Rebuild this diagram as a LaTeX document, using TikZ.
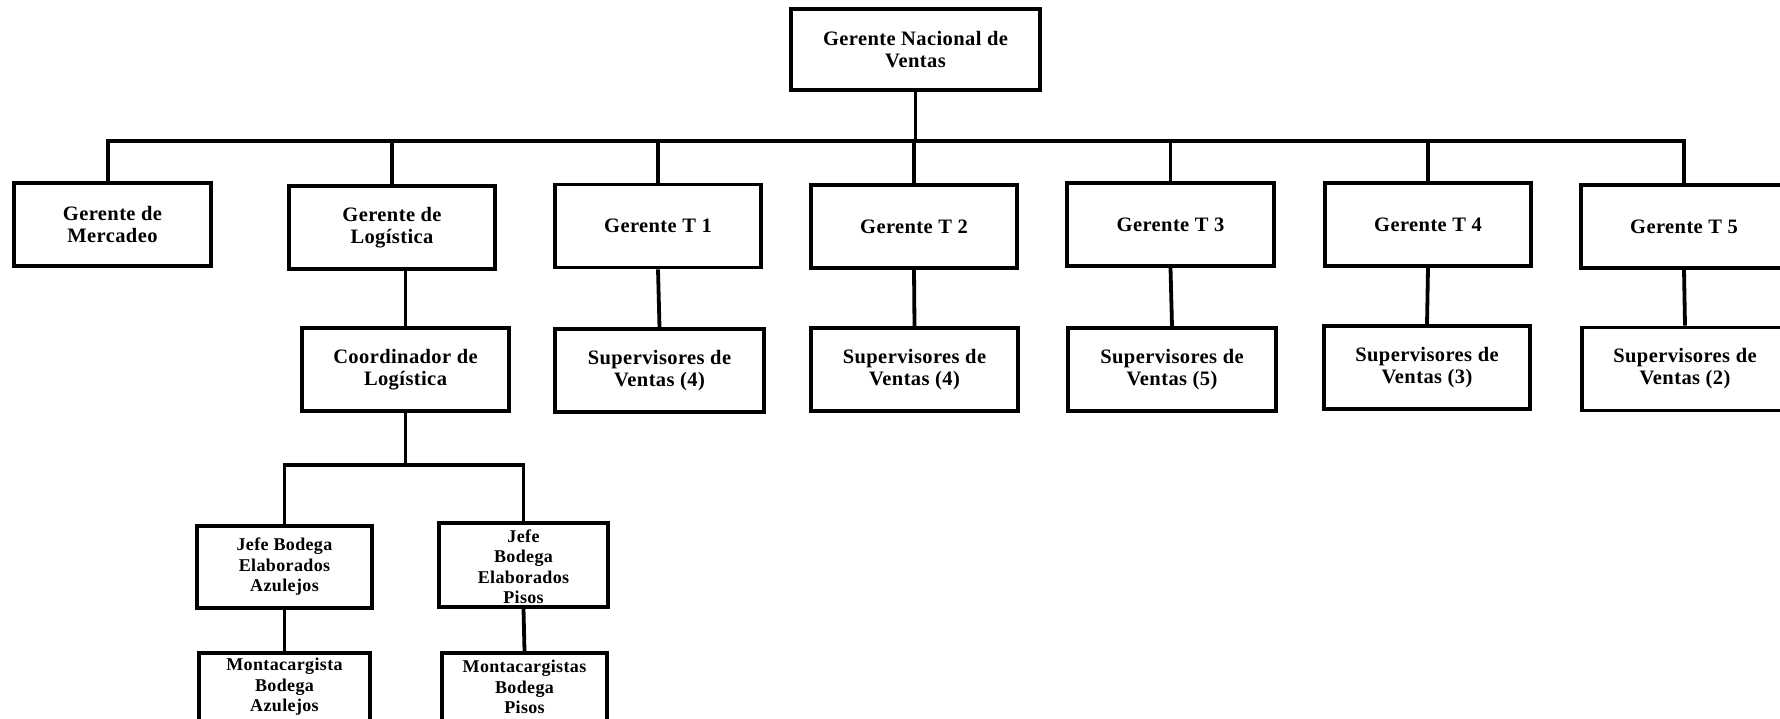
\documentclass[tikz,border=0pt]{standalone}
\usepackage{fontspec}
\setmainfont{Liberation Serif}[LetterSpace=2]
\begin{document}
\begin{tikzpicture}[x=1pt,y=-1pt,
  box/.style={draw=black, line width=3.6pt, fill=white, inner sep=0pt, align=center,
    font=\bfseries\fontsize{20.5}{22}\selectfont},
  bigbox/.style={box, minimum width=206pt, minimum height=83pt},
  smallbox/.style={box, font=\bfseries\fontsize{18}{20.5}\selectfont},
  txt/.style={inner sep=0pt, align=center, font=\bfseries\fontsize{18}{20.5}\selectfont},
  conn/.style={line width=3.8pt, line join=miter}]
\useasboundingbox (0,0) rectangle (1780,718);
% top level
\node[box, minimum width=249pt, minimum height=81pt] (top) at (915.5,49.5) {Gerente Nacional de\\Ventas};
% second level
\node[bigbox, minimum width=197pt] (merc) at (112.5,224.5) {Gerente de\\Mercadeo};
\node[bigbox] (log) at (392,227.5) {Gerente de\\Logística};
\node[bigbox] (t1) at (658,226) {Gerente T 1};
\node[bigbox] (t2) at (914,226.5) {Gerente T 2};
\node[bigbox, minimum width=207pt] (t3) at (1170.5,224.5) {Gerente T 3};
\node[bigbox] (t4) at (1428,224.5) {Gerente T 4};
\node[bigbox] (t5) at (1684,226.5) {Gerente T 5};
% third level
\node[bigbox, minimum width=207pt] (coord) at (405.5,369.5) {Coordinador de\\Logística};
\node[bigbox, minimum width=209pt] (s1) at (659.5,370.5) {Supervisores de\\Ventas (4)};
\node[bigbox, minimum width=207pt] (s2) at (914.5,369.5) {Supervisores de\\Ventas (4)};
\node[bigbox, minimum width=208pt] (s3) at (1172,369.5) {Supervisores de\\Ventas (5)};
\node[bigbox] (s4) at (1427,367.5) {Supervisores de\\Ventas (3)};
\node[bigbox] (s5) at (1685,369) {Supervisores de\\Ventas (2)};
% warehouse level
\node[smallbox, minimum width=175pt, minimum height=82pt] (ja) at (284.5,567) {Jefe Bodega\\Elaborados\\Azulejos};
\node[smallbox, minimum width=169pt, minimum height=84pt] (jp) at (523.5,565) {};
\node[txt] (jpt) at (523.5,566.5) {Jefe\\Bodega\\Elaborados\\Pisos};
\node[smallbox, minimum width=171pt, minimum height=84pt] (ma) at (284.5,695) {};
\node[txt] (mat) at (284.5,687) {Montacargista\\Bodega\\Azulejos};
\node[smallbox, minimum width=165pt, minimum height=84pt] (mp) at (524.5,695) {};
\node[txt] (mpt) at (524.5,687) {Montacargistas\\Bodega\\Pisos};
% connectors
\coordinate (bus) at (0,141);
\coordinate (sub) at (0,465);
\coordinate (mercc) at ([xshift=-4.5pt]merc.north);
\draw[conn] (top.south) -- (top.south |- bus);
\draw[conn] (mercc) -- (mercc |- bus) -- (t5.north |- bus) -- (t5.north);
\foreach \n in {log,t1,t2,t3,t4} \draw[conn] (\n.north) -- (\n.north |- bus);
\draw[conn] (coord.north) -- (coord.north |- log.south);
\foreach \a/\b in {t1/s1,t2/s2,t3/s3,t4/s4,t5/s5} \draw[conn] (\a.south) -- (\b.north);
\draw[conn] (coord.south) -- (coord.south |- sub);
\draw[conn] (ja.north) -- (ja.north |- sub) -- (jp.north |- sub) -- (jp.north);
\draw[conn] (ja.south) -- (ma.north);
\draw[conn] (jp.south) -- (mp.north);
\end{tikzpicture}
\end{document}
